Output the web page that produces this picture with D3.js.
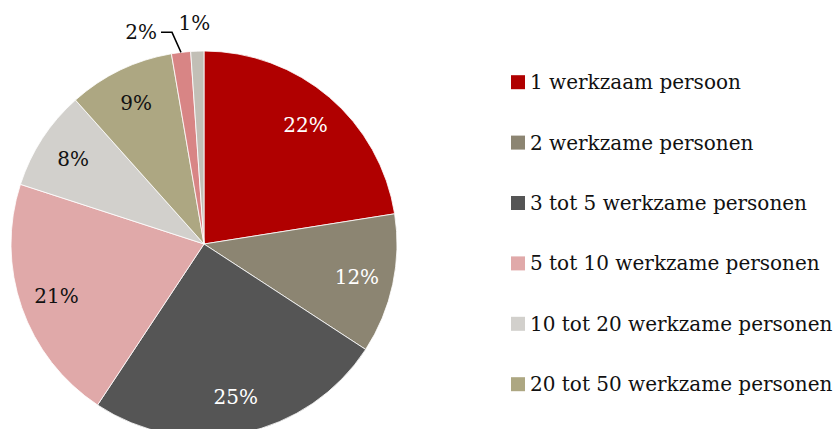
<!DOCTYPE html>
<html>
<head>
<meta charset="utf-8">
<script src="https://cdn.jsdelivr.net/npm/d3@7"></script>
<style>
  body { margin: 0; background: #fff; }
</style>
</head>
<body>
<div id="chart"></div>
<script>
// categories & values (share of businesses, %)
const categories = [
  "1 werkzaam persoon",
  "2 werkzame personen",
  "3 tot 5 werkzame personen",
  "5 tot 10 werkzame personen",
  "10 tot 20 werkzame personen",
  "20 tot 50 werkzame personen",
  "50 tot 100 werkzame personen",
  "100 of meer werkzame personen"
];
const values = [22.5, 11.7, 25.1, 20.7, 8.4, 8.9, 1.6, 1.1];
const labels = ["22%", "12%", "25%", "21%", "8%", "9%", "2%", "1%"];
const colors = ["#B00000", "#8C8572", "#555555", "#E0A9A9", "#D2D0CC", "#ADA782", "#D88585", "#C2BFB6"];
const labelColors = ["#fff", "#fff", "#fff", "#111", "#111", "#111", "#111", "#111"];
// only the first six legend rows fit in the picture
const legendShown = 6;

const FONT = "'DejaVu Serif', 'Liberation Serif', serif";

const width = 835;
const height = 429;
const cx = 204, cy = 244, radius = 193;

const svg = d3.select("#chart")
  .append("svg")
  .attr("width", width)
  .attr("height", height)
  .attr("font-family", FONT);

const g = svg.append("g")
  .attr("transform", "translate(" + cx + "," + cy + ")");

const pie = d3.pie().sort(null).value(d => d);
const arcs = pie(values);

const arc = d3.arc().innerRadius(0).outerRadius(radius);
const labelArc = d3.arc().innerRadius(radius * 0.81).outerRadius(radius * 0.81);

g.selectAll("path")
  .data(arcs)
  .enter()
  .append("path")
  .attr("d", arc)
  .attr("fill", (d, i) => colors[i])
  .attr("stroke", "#fff")
  .style("stroke-width", "0.8px");

// labels inside for the big slices
const inside = arcs.slice(0, 6);
g.selectAll("text.lbl")
  .data(inside)
  .enter()
  .append("text")
  .attr("class", "lbl")
  .attr("transform", d => "translate(" + labelArc.centroid(d) + ")")
  .attr("text-anchor", "middle")
  .attr("dy", "0.35em")
  .style("font-family", FONT)
  .style("font-size", "20px")
  .attr("fill", (d, i) => labelColors[i])
  .text((d, i) => labels[i]);

// small slices: labels outside the pie
const outerArc = d3.arc().innerRadius(radius).outerRadius(radius);
const a7 = arcs[6], a8 = arcs[7];
const p7 = outerArc.centroid(a7);
g.append("polyline")
  .attr("points", [[p7[0], p7[1]], [p7[0] - 9, p7[1] - 20], [p7[0] - 20, p7[1] - 20]].map(p => p.join(",")).join(" "))
  .attr("fill", "none")
  .attr("stroke", "#000")
  .attr("stroke-width", 1.5);
g.append("text")
  .attr("x", p7[0] - 24)
  .attr("y", p7[1] - 13)
  .attr("text-anchor", "end")
  .style("font-family", FONT)
  .style("font-size", "20px")
  .attr("fill", "#111")
  .text(labels[6]);

const p8 = outerArc.centroid(a8);
g.append("text")
  .attr("x", p8[0] - 3)
  .attr("y", p8[1] - 21)
  .attr("text-anchor", "middle")
  .style("font-family", FONT)
  .style("font-size", "20px")
  .attr("fill", "#111")
  .text(labels[7]);

// legend
const legendCats = categories.slice(0, legendShown);
const y = d3.scaleBand().domain(legendCats).range([52, 52 + 60.4 * legendCats.length]);

const legend = svg.append("g").attr("transform", "translate(511,0)");
const items = legend.selectAll("g")
  .data(legendCats)
  .enter()
  .append("g")
  .attr("transform", d => "translate(0," + (y(d) + y.bandwidth() / 2) + ")");

items.append("rect")
  .attr("x", 0)
  .attr("y", -7)
  .attr("width", 14)
  .attr("height", 14)
  .attr("fill", (d, i) => colors[i]);

items.append("text")
  .attr("x", 19)
  .attr("y", 7)
  .style("font-family", FONT)
  .style("font-size", "20px")
  .attr("fill", "#111")
  .text(d => d);
</script>
</body>
</html>
